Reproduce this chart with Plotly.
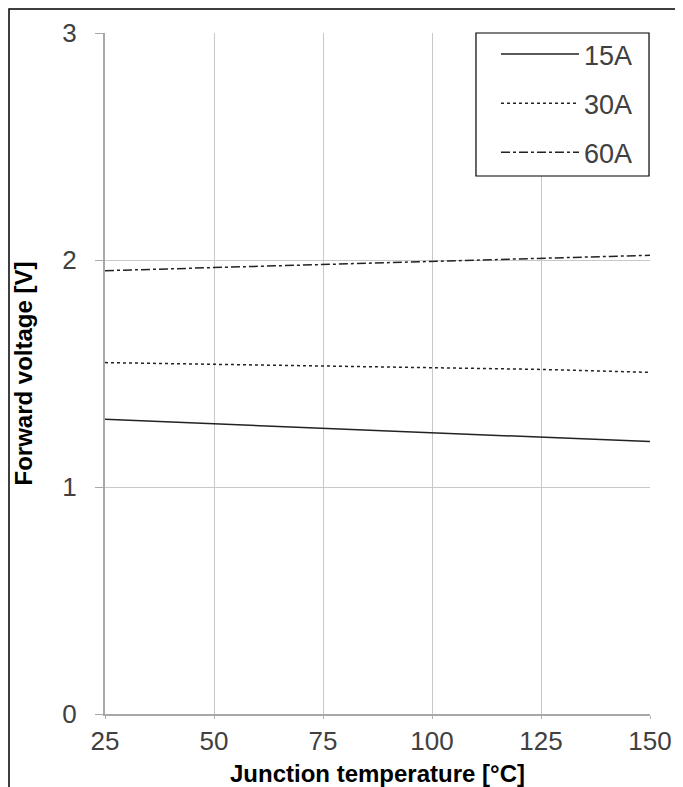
import plotly.graph_objects as go

temps = [25, 50, 75, 100, 125, 150]
vf_15a = [1.298, 1.278, 1.259, 1.239, 1.220, 1.200]
vf_30a = [1.548, 1.540, 1.533, 1.525, 1.518, 1.505]
vf_60a = [1.953, 1.966, 1.981, 1.993, 2.007, 2.021]
series_names = ["15A", "30A", "60A"]
x_ticks = [25, 50, 75, 100, 125, 150]
y_ticks = [0, 1, 2, 3]

FONT = "Liberation Sans, Arial, sans-serif"

fig = go.Figure()
styles = ["solid", "dot", "dashdot"]
for name, vals, dash in zip(series_names, [vf_15a, vf_30a, vf_60a], styles):
    fig.add_trace(go.Scatter(
        x=temps, y=vals, mode="lines", name=name, legendgroup=name,
        line=dict(color="#222222", width=1.5, dash=dash),
    ))

fig.update_layout(
    width=675, height=779,
    margin=dict(l=97, r=33, t=25, b=73, autoexpand=False),
    paper_bgcolor="white", plot_bgcolor="white",
    font=dict(family=FONT, color="#404040"),
    showlegend=True,
    legend=dict(
        x=0.7174, xanchor="left", y=1.0044, yanchor="top",
        bgcolor="rgba(0,0,0,0)", borderwidth=0,
        font=dict(family=FONT, size=27, color="#404040"),
        itemwidth=78, tracegroupgap=11, traceorder="grouped",
    ),
    xaxis=dict(
        range=[25, 150], tickvals=x_ticks, ticktext=[str(v) for v in x_ticks],
        showgrid=True, gridcolor="#c8c8c8", gridwidth=1.2,
        showline=True, linecolor="#a8a8a8", linewidth=2,
        ticks="outside", ticklen=3, tickcolor="#b0b0b0",
        tickfont=dict(family=FONT, size=26, color="#404040"),
        zeroline=False, automargin=True,
        title=dict(text="Junction temperature [°C]", standoff=25,
                   font=dict(family=FONT, size=24, color="#000000", weight="bold")),
    ),
    yaxis=dict(
        range=[0, 3], tickvals=y_ticks, ticktext=[str(v) for v in y_ticks],
        showgrid=True, gridcolor="#c8c8c8", gridwidth=1.2,
        showline=True, linecolor="#a8a8a8", linewidth=2,
        ticks="outside", ticklen=8, tickcolor="#a8a8a8",
        ticklabelstandoff=13,
        tickfont=dict(family=FONT, size=26, color="#404040"),
        zeroline=False, automargin=True,
        title=dict(text="Forward voltage [V]", standoff=23,
                   font=dict(family=FONT, size=24, color="#000000", weight="bold")),
    ),
    shapes=[
        dict(type="rect", xref="paper", yref="paper",
             x0=0.6807, x1=0.9982, y0=0.790, y1=1.0,
             line=dict(color="#000000", width=1.2), fillcolor="white",
             layer="above"),
        dict(type="rect", xref="paper", yref="paper",
             x0=(1 - 97) / 545, x1=1.2, y0=-0.2, y1=(706 - 1) / 681,
             line=dict(color="#000000", width=1.5), fillcolor="rgba(0,0,0,0)",
             layer="above"),
    ],
)

fig.write_html("out.html")
